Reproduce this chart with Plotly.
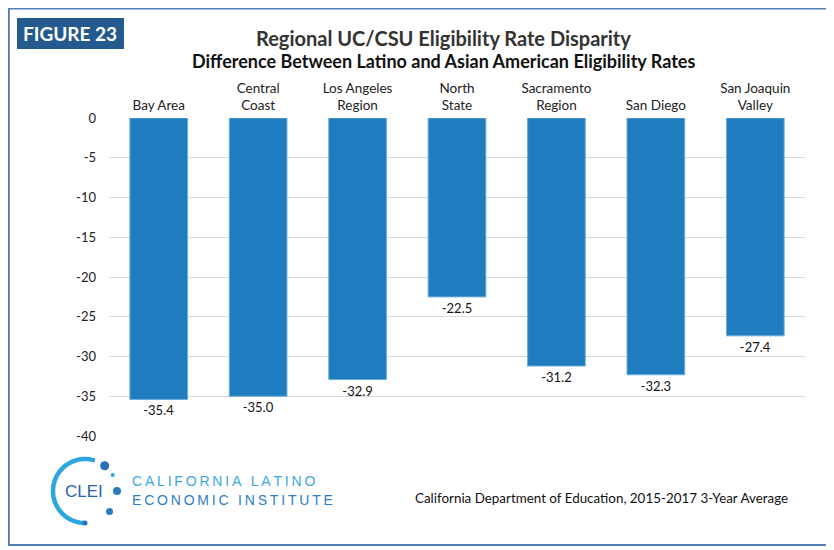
import math
import plotly.graph_objects as go

# --- Data ---
regions = ["Bay Area", "Central<br>Coast", "Los Angeles<br>Region", "North<br>State",
           "Sacramento<br>Region", "San Diego", "San Joaquin<br>Valley"]
gap_values = [-35.4, -35.0, -32.9, -22.5, -31.2, -32.3, -27.4]
y_ticks = [0, -5, -10, -15, -20, -25, -30, -35, -40]
y_tick_labels = ["0", "-5", "-10", "-15", "-20", "-25", "-30", "-35", "-40"]

W, H = 834, 550
OFF = 8  # page margin around the plot div
FONT = "Lato"


def px(x):
    return (x - OFF) / W


def py(y):
    return (H - (y - OFF)) / H


def note(text, x, y, size, color, family=FONT, xanchor="center"):
    return dict(text=text, x=px(x), y=py(y), xref="paper", yref="paper",
                xanchor=xanchor, yanchor="middle", showarrow=False,
                font=dict(family=family, size=size, color=color))


fig = go.Figure()
fig.add_trace(
    go.Bar(
        x=regions,
        y=gap_values,
        marker=dict(color="#1F7DBF", line=dict(color="#6AAEDC", width=1)),
        text=[f"{v:.1f}" for v in gap_values],
        textposition="outside",
        textfont=dict(family=FONT, size=13, color="#111"),
        cliponaxis=False,
    )
)

shapes = []
# frame
shapes.append(dict(type="rect", xref="paper", yref="paper", x0=0.001, x1=1.05, y0=py(545), y1=0.999,
                   fillcolor="rgba(0,0,0,0)", line=dict(color="#4F7FB4", width=2)))
# figure badge
shapes.append(dict(type="rect", xref="paper", yref="paper", x0=px(17), x1=px(124), y0=py(49), y1=py(18),
                   fillcolor="#245A8D", line=dict(width=0)))

# logo ring (arc through the left side)
cx, cy, r = 85, 491, 32
pts = []
for i in range(0, 61):
    a = math.radians(72 + i * (268 - 72) / 60)
    pts.append((cx + r * math.cos(a), cy - r * math.sin(a)))
path = "M " + " L ".join(f"{px(x)},{py(y)}" for x, y in pts)
shapes.append(dict(type="path", xref="paper", yref="paper", path=path,
                   line=dict(color="#2BA6E0", width=4.5)))
# logo dots on the right side
for ang, rad, col in [(52, 4.5, "#2B6FB5"), (30, 2, "#2BA6E0"), (0, 4, "#2B7CC0"),
                      (-40, 3.5, "#2B7CC0"), (-90, 2.5, "#2B6FB5")]:
    a = math.radians(ang)
    dx, dy = cx + r * math.cos(a), cy - r * math.sin(a)
    shapes.append(dict(type="circle", xref="paper", yref="paper",
                       x0=px(dx - rad), x1=px(dx + rad), y0=py(dy + rad), y1=py(dy - rad),
                       fillcolor=col, line=dict(width=0)))

spaced = lambda s: "\u2009".join(s)

annotations = [
    note("<b>FIGURE 23</b>", 70, 34, 19, "white"),
    note("<b>Regional UC/CSU Eligibility Rate Disparity</b>", 443, 38.5, 20, "#333"),
    note("<b>Difference Between Latino and Asian American Eligibility Rates</b>", 443, 60.5, 18, "#111"),
    note("CLEI", 84, 491, 17, "#2A64A8", family="Liberation Sans"),
    note(spaced("CALIFORNIA LATINO"), 130, 481, 14, "#3AA8E0", family="Liberation Sans", xanchor="left"),
    note(spaced("ECONOMIC INSTITUTE"), 130, 500, 14, "#2E7EC0", family="Liberation Sans", xanchor="left"),
    note("California Department of Education, 2015-2017 3-Year Average", 790, 498, 13.4, "#111",
         xanchor="right"),
]

fig.update_layout(
    width=W,
    height=H,
    margin=dict(l=0, r=0, t=0, b=0, autoexpand=False),
    paper_bgcolor="white",
    plot_bgcolor="white",
    showlegend=False,
    bargap=0.42,
    shapes=shapes,
    annotations=annotations,
    font=dict(family=FONT, size=13, color="#222"),
    xaxis=dict(domain=[px(109), px(805)], side="top", showline=False, ticks="", automargin=False,
               tickfont=dict(family=FONT, size=13.5, color="#222"), ticklabelstandoff=4),
    yaxis=dict(domain=[py(436), py(118)], range=[-40, 0], tickvals=y_ticks, ticktext=y_tick_labels,
               automargin=False, showgrid=True, gridcolor="#D9D9D9", gridwidth=1, zeroline=False,
               showline=False, ticks="", ticklabelstandoff=12,
               tickfont=dict(family=FONT, size=13, color="#222")),
)

fig.write_html("out.html")
